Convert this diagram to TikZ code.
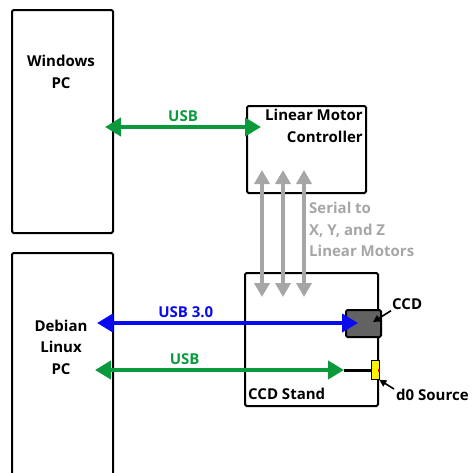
\documentclass[tikz,border=0pt]{standalone}
\usepackage{fontspec}
\setmainfont{Open Sans}
\usetikzlibrary{arrows.meta,positioning,calc}
\definecolor{UsbGreen}{HTML}{0A9A3C}
\definecolor{UsbBlue}{HTML}{0A0AF0}
\definecolor{SerialGray}{HTML}{A6A6A6}
\definecolor{CcdGray}{HTML}{626262}
\definecolor{SrcYellow}{HTML}{FFF200}

\tikzset{
  box/.style={draw,line width=2pt,rounded corners=1.5pt,inner sep=0pt},
  lbl/.style={font=\fontsize{15}{21.5}\selectfont\bfseries,align=center,inner sep=0pt},
  link/.style={line width=4pt,{Triangle[length=16pt,width=18pt]}-{Triangle[length=16pt,width=18pt]}},
  serial/.style={draw=SerialGray,line width=4pt,{Triangle[length=14pt,width=15pt]}-{Triangle[length=14pt,width=15pt]}},
  pointer/.style={line width=1.6pt,-{Triangle[length=7pt,width=7pt]}}
}

\begin{document}
\begin{tikzpicture}[x=1pt,y=-1pt]
  \useasboundingbox (0,0) rectangle (474,472);

  % boxes
  \node[box,minimum width=101,minimum height=223] (win) at (62.5,121.5) {};
  \node[box,minimum width=101,minimum height=230] (deb) at (62.5,368) {};
  \node[box,minimum width=119,minimum height=87] (lmc) at (306.5,149.5) {};
  \node[box,minimum width=133,minimum height=133] (stand) at (311.5,339.5) {};
  \node[box,fill=CcdGray,minimum width=35,minimum height=27] (ccd) at (363.5,323.5) {};
  \node[draw=black,line width=0.6pt,fill=SrcYellow,inner sep=0pt,minimum width=8,minimum height=19] (src) at (375,370) {};
  \fill[red] (src.east) ++(-1,-1.5) rectangle ++(2,3);

  % texts
  \node[lbl] (wintxt) at (61,72) {Windows\\PC};
  \node[lbl] (debtxt) at (61,347) {Debian\\Linux\\PC};
  \node[lbl,align=right,anchor=north east] (lmctxt) at (363,109) {Linear Motor\\Controller};
  \node[lbl,anchor=south west] (standtxt) at (248,400) {CCD Stand};
  \node[lbl,anchor=west] (ccdtxt) at (392,304) {CCD};
  \node[lbl,anchor=west] (srctxt) at (396,395) {d0 Source};
  \node[lbl,text=SerialGray,align=left,anchor=north west] (sertxt) at (309,202) {Serial to\\X, Y, and Z\\Linear Motors};

  % usb links
  \coordinate (usbA) at (105,127);
  \coordinate (usbB) at (261,127);
  \draw[link,UsbGreen] (usbA) -- node[lbl,above=3pt] (usbtxt) {USB} (usbB);

  \coordinate (usb3A) at (97,323);
  \coordinate (usb3B) at (358,323);
  \draw[link,UsbBlue] (usb3A) -- node[lbl,above=3pt,pos=0.34] (usb3txt) {USB 3.0} (usb3B);

  \coordinate (usb2A) at (95,370);
  \coordinate (usb2B) at (344,370);
  \draw[link,UsbGreen] (usb2A) -- node[lbl,above=3pt,pos=0.36] (usb2txt) {USB} (usb2B);
  \draw[line width=3pt] (usb2B) -- (src.west);

  % serial links
  \foreach \sx in {262,283,304}
    \draw[serial] (\sx,170) -- (\sx,297);

  % pointers
  \draw[pointer] (ccdtxt.south west) ++(-1,1) -- (373,322);
  \draw[pointer] (srctxt.north west) ++(-2,0) -- (src.south east);
\end{tikzpicture}
\end{document}
